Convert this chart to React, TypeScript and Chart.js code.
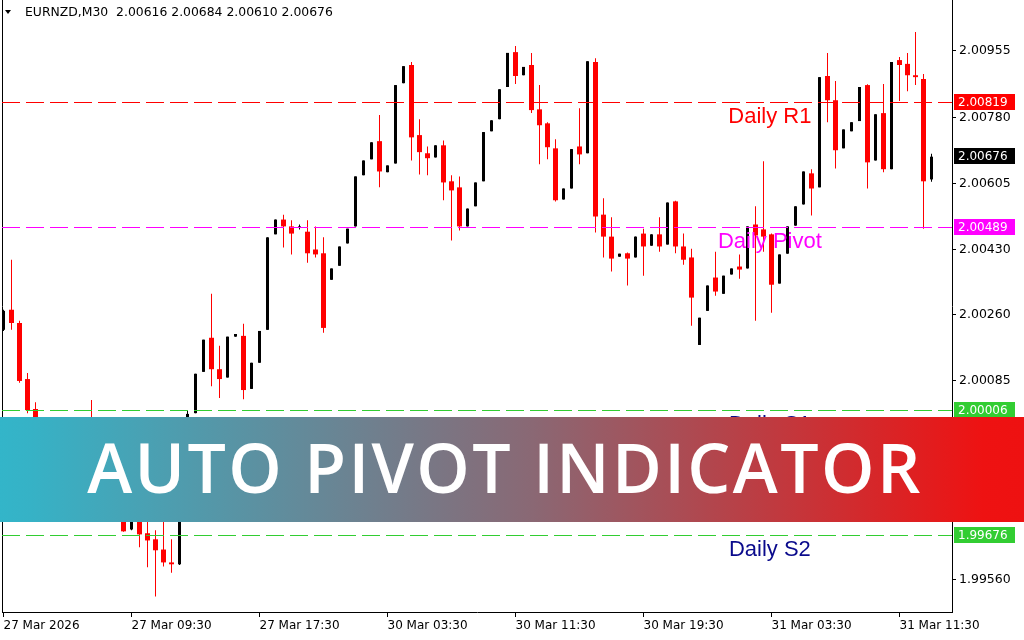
import React, { useEffect, useRef } from "react";
import { Chart, registerables } from "chart.js";

Chart.register(...registerables);

// ---------- data ----------
const symbolTitle = "EURNZD,M30";
const headerOHLC = [2.00616, 2.00684, 2.0061, 2.00676];

const opens = [
  2.00219, 2.00272, 2.00237, 2.00089, 2.0001, 1.9996, 1.99915, 1.99949, 1.9988, 1.99848,
  1.99888, 1.9987, 1.99827, 1.99862, 1.99782, 1.99737, 1.99692, 1.99727, 1.99682, 1.99666,
  1.99639, 1.99605, 1.996, 1.99848, 1.99999, 2.00108, 2.00198, 2.00115, 2.00093, 2.00201,
  2.00203, 2.00063, 2.00132, 2.00219, 2.00471, 2.0051, 2.00492, 2.00489, 2.00478, 2.00431,
  2.00421, 2.00351, 2.00388, 2.00447, 2.00492, 2.00627, 2.00669, 2.00717, 2.00635, 2.00658,
  2.0087, 2.00918, 2.00733, 2.00685, 2.00674, 2.00706, 2.00611, 2.00595, 2.00492, 2.00545,
  2.00611, 2.00743, 2.00775, 2.0086, 2.00952, 2.00891, 2.00918, 2.00801, 2.00764, 2.00698,
  2.00563, 2.00592, 2.00703, 2.00685, 2.00926, 2.00523, 2.00465, 2.00412, 2.00421, 2.0041,
  2.00473, 2.00441, 2.00471, 2.00444, 2.00558, 2.00439, 2.0041, 2.00179, 2.00269, 2.00357,
  2.00314, 2.00365, 2.00386, 2.00381, 2.00497, 2.00484, 2.00471, 2.00341, 2.0042, 2.00494,
  2.0055, 2.00632, 2.00595, 2.00889, 2.00825, 2.00698, 2.00743, 2.0077, 2.00865, 2.00666,
  2.00791, 2.00643, 2.00931, 2.00921, 2.00891, 2.00881, 2.00616,
];

const highs = [
  2.00272, 2.00404, 2.00243, 2.00105, 2.00028, 1.9997, 1.9996, 1.99954, 1.99896, 1.99901,
  1.99907, 2.00034, 1.99875, 1.9987, 1.99796, 1.99756, 1.99743, 1.99737, 1.99737, 1.9969,
  1.99729, 1.99666, 1.99862, 2.00007, 2.00103, 2.00193, 2.00314, 2.00177, 2.00201, 2.00208,
  2.00235, 2.00132, 2.00216, 2.00463, 2.0051, 2.00523, 2.00508, 2.00497, 2.00508, 2.00492,
  2.00463, 2.00381, 2.00439, 2.00486, 2.00624, 2.00666, 2.00714, 2.00786, 2.00653, 2.00865,
  2.00915, 2.00926, 2.00775, 2.00703, 2.00706, 2.00719, 2.00627, 2.00624, 2.00539, 2.00608,
  2.00741, 2.00772, 2.00854, 2.0095, 2.00968, 2.00913, 2.0095, 2.00865, 2.00767, 2.00722,
  2.00592, 2.00696, 2.00804, 2.00928, 2.00936, 2.00566, 2.00516, 2.0042, 2.00423, 2.00465,
  2.00486, 2.00471, 2.00516, 2.00555, 2.0056, 2.00473, 2.00433, 2.00251, 2.00336, 2.00425,
  2.00362, 2.00381, 2.00418, 2.00492, 2.00545, 2.00664, 2.00473, 2.00418, 2.00492, 2.00545,
  2.00637, 2.00643, 2.00886, 2.0095, 2.00876, 2.00748, 2.00767, 2.0086, 2.00867, 2.00788,
  2.00868, 2.00926, 2.00939, 2.0095, 2.01005, 2.00894, 2.00684,
];

const lows = [
  2.00216, 2.00219, 2.00079, 1.99999, 1.99928, 1.99896, 1.99901, 1.99862, 1.99822, 1.99833,
  1.99848, 1.99809, 1.99801, 1.99769, 1.99721, 1.99686, 1.9969, 1.99645, 1.99592, 1.99515,
  1.99594, 1.99578, 1.99598, 1.99835, 1.99999, 2.00108, 2.0007, 2.00039, 2.00093, 2.00201,
  2.00036, 2.00063, 2.00132, 2.00219, 2.00471, 2.00436, 2.00418, 2.00484, 2.00396, 2.0041,
  2.00211, 2.00351, 2.00388, 2.00447, 2.00492, 2.00627, 2.00669, 2.00595, 2.00635, 2.00658,
  2.0087, 2.00666, 2.00629, 2.00627, 2.00674, 2.00561, 2.00455, 2.00481, 2.00492, 2.00545,
  2.00611, 2.00743, 2.00775, 2.0086, 2.00868, 2.00891, 2.00791, 2.00656, 2.00669, 2.00558,
  2.00563, 2.00592, 2.00656, 2.00685, 2.00476, 2.0041, 2.00373, 2.00412, 2.00336, 2.0041,
  2.00362, 2.00441, 2.00425, 2.00444, 2.00421, 2.00391, 2.0023, 2.00179, 2.00269, 2.00309,
  2.00314, 2.00365, 2.00354, 2.00381, 2.00243, 2.00425, 2.00264, 2.00341, 2.0042, 2.00494,
  2.0055, 2.00521, 2.00595, 2.00767, 2.00645, 2.00698, 2.00743, 2.0077, 2.00592, 2.00666,
  2.00635, 2.00643, 2.00823, 2.00849, 2.00865, 2.00486, 2.0061,
];

const closes = [
  2.00269, 2.00237, 2.00084, 2.00007, 1.9996, 1.99915, 1.99949, 1.9988, 1.99848, 1.99888,
  1.9987, 1.99827, 1.99862, 1.99782, 1.99743, 1.99687, 1.99729, 1.99679, 1.99663, 1.99637,
  1.99605, 1.996, 1.99848, 1.99997, 2.00103, 2.00193, 2.00115, 2.00089, 2.00201, 2.00208,
  2.0006, 2.00132, 2.00216, 2.00463, 2.0051, 2.00492, 2.00473, 2.00492, 2.00421, 2.00418,
  2.00224, 2.00381, 2.00439, 2.00486, 2.00624, 2.00666, 2.00714, 2.00637, 2.00653, 2.00865,
  2.00915, 2.00727, 2.00688, 2.00672, 2.00706, 2.00608, 2.00587, 2.00492, 2.00539, 2.00608,
  2.00741, 2.00772, 2.00854, 2.0095, 2.00889, 2.00913, 2.00799, 2.00759, 2.00701, 2.00561,
  2.00592, 2.00696, 2.00682, 2.00928, 2.00518, 2.00465, 2.00407, 2.0042, 2.00407, 2.00465,
  2.00439, 2.00471, 2.00439, 2.00555, 2.00439, 2.00404, 2.00304, 2.00251, 2.00336, 2.0032,
  2.00362, 2.00381, 2.00378, 2.00492, 2.00468, 2.00465, 2.00338, 2.00418, 2.00492, 2.00545,
  2.00637, 2.00592, 2.00886, 2.00825, 2.00693, 2.00748, 2.00767, 2.0086, 2.00661, 2.00788,
  2.00643, 2.00926, 2.00918, 2.00891, 2.00886, 2.00611, 2.00676,
];

const timeLabels = [
  "27 Mar 2026",
  "27 Mar 09:30",
  "27 Mar 17:30",
  "30 Mar 03:30",
  "30 Mar 11:30",
  "30 Mar 19:30",
  "31 Mar 03:30",
  "31 Mar 11:30",
];
const barsPerLabel = 16;

const priceTicks = [2.00955, 2.0078, 2.00605, 2.0043, 2.0026, 2.00085, 1.9991, 1.99735, 1.9956];

const levelNames = ["Daily R1", "Daily Pivot", "Daily S1", "Daily S2"];
const levelValues = [2.00819, 2.00489, 2.00006, 1.99676];
const levelLineColors = ["#ff0000", "#ff00ff", "#32cd32", "#32cd32"];
const levelTextColors = ["#ff0000", "#ff00ff", "#0a0a8c", "#0a0a8c"];
const bidPrice = 2.00676;
const bannerTitle = "AUTO PIVOT INDICATOR";

// ---------- view settings ----------
const Y_MAX = 2.010896;
const Y_MIN = 1.994741;
const X_MIN = -0.1875;
const X_MAX = 118.5625;
const LEVEL_LABEL_AT = 95.8;
const AXIS_FAMILY = '"DejaVu Sans", Tahoma, sans-serif';
const AXIS_FONT = "12px " + AXIS_FAMILY;

const idx = opens.map((_, i) => i);
const isBear = (i: number) => closes[i] < opens[i];
const bearIdx = idx.filter(isBear);
const bullIdx = idx.filter((i) => !isBear(i));

const overlayPlugin = {
  id: "mt4overlay",
  afterDraw(chart: any) {
    const { ctx, chartArea, scales } = chart;
    const ys = scales.y;
    const xs = scales.x;
    ctx.save();
    // left frame line
    ctx.strokeStyle = "#000";
    ctx.lineWidth = 1;
    ctx.beginPath();
    ctx.moveTo(chartArea.left + 0.5, 0);
    ctx.lineTo(chartArea.left + 0.5, chartArea.bottom + 1);
    ctx.stroke();

    // pivot levels
    levelValues.forEach((v, i) => {
      const py = Math.floor(ys.getPixelForValue(v)) + 0.5;
      ctx.save();
      ctx.lineWidth = 1;
      ctx.setLineDash([18, 6]);
      ctx.strokeStyle = levelLineColors[i];
      ctx.beginPath();
      ctx.moveTo(chartArea.left, py);
      ctx.lineTo(chartArea.right, py);
      ctx.stroke();
      ctx.restore();
      ctx.font = '22px "Liberation Sans", Arial, sans-serif';
      ctx.fillStyle = levelTextColors[i];
      ctx.textAlign = "center";
      ctx.textBaseline = "alphabetic";
      ctx.fillText(levelNames[i], xs.getPixelForValue(LEVEL_LABEL_AT), py + 20.5);
    });

    // price boxes on the axis
    const boxes = [
      { v: levelValues[0], c: levelLineColors[0] },
      { v: bidPrice, c: "#000000" },
      { v: levelValues[1], c: levelLineColors[1] },
      { v: levelValues[2], c: levelLineColors[2] },
      { v: levelValues[3], c: levelLineColors[3] },
    ];
    boxes.forEach((b) => {
      const py = Math.floor(ys.getPixelForValue(b.v)) + 0.5;
      ctx.fillStyle = b.c;
      ctx.fillRect(chartArea.right + 2, Math.floor(py) - 8, 61, 16);
      ctx.fillStyle = "#ffffff";
      ctx.font = AXIS_FONT;
      ctx.textAlign = "left";
      ctx.textBaseline = "middle";
      ctx.fillText(b.v.toFixed(5), chartArea.right + 6, py);
    });

    // header
    ctx.fillStyle = "#000";
    ctx.beginPath();
    ctx.moveTo(5, 10);
    ctx.lineTo(11, 10);
    ctx.lineTo(8, 14);
    ctx.closePath();
    ctx.fill();
    ctx.font = "12.4px " + AXIS_FAMILY;
    ctx.textAlign = "left";
    ctx.textBaseline = "middle";
    ctx.fillText(
      symbolTitle + "  " + headerOHLC.map((v) => v.toFixed(5)).join(" "),
      25,
      13
    );
    ctx.restore();
  },
};

export default function App() {
  const ref = useRef<HTMLCanvasElement>(null);
  useEffect(() => {
    if (!ref.current) return;
    const chart = new Chart(ref.current, {
      type: "bar",
      data: {
        datasets: [
          {
            label: "bear body",
            data: bearIdx.map((i) => ({ x: i, y: [opens[i], closes[i]] })) as any,
            backgroundColor: "#ff0000",
            barThickness: 5,
            grouped: false,
            minBarLength: 1,
            inflateAmount: 0,
            order: 0,
          },
          {
            label: "bull body",
            data: bullIdx.map((i) => ({ x: i, y: [opens[i], closes[i]] })) as any,
            backgroundColor: "#000000",
            barThickness: 3,
            grouped: false,
            minBarLength: 1,
            inflateAmount: 0,
            order: 0,
          },
          {
            label: "bear wick",
            data: bearIdx.map((i) => ({ x: i, y: [lows[i], highs[i]] })) as any,
            backgroundColor: "#ff0000",
            barThickness: 1,
            grouped: false,
            inflateAmount: 0,
            order: 1,
          },
          {
            label: "bull wick",
            data: bullIdx.map((i) => ({ x: i, y: [lows[i], highs[i]] })) as any,
            backgroundColor: "#000000",
            barThickness: 1,
            grouped: false,
            inflateAmount: 0,
            order: 1,
          },
        ],
      },
      options: {
        animation: false,
        responsive: false,
        layout: { padding: { left: 2, top: 0, right: 0, bottom: 0 } },
        plugins: { legend: { display: false }, tooltip: { enabled: false } },
        scales: {
          x: {
            type: "linear",
            min: X_MIN,
            max: X_MAX,
            bounds: "data",
            offset: false,
            afterBuildTicks: (s: any) => {
              s.ticks = timeLabels.map((_, i) => ({ value: i * barsPerLabel }));
            },
            afterFit: (s: any) => {
              s.height = 28;
              s.paddingLeft = 0;
              s.paddingRight = 0;
            },
            grid: { offset: false, drawOnChartArea: false, drawTicks: true, tickLength: 5, color: "#000" },
            border: { display: true, color: "#000" },
            ticks: {
              autoSkip: false,
              maxRotation: 0,
              minRotation: 0,
              align: "start",
              padding: 2,
              color: "#000",
              font: { family: AXIS_FAMILY, size: 12 },
              callback: (_v: any, i: number) => timeLabels[i] ?? "",
            },
          },
          y: {
            type: "linear",
            position: "right",
            min: Y_MIN,
            max: Y_MAX,
            bounds: "data",
            afterBuildTicks: (s: any) => {
              s.ticks = priceTicks.map((v) => ({ value: v }));
            },
            afterFit: (s: any) => {
              s.width = 72;
              s.paddingTop = 0;
              s.paddingBottom = 0;
            },
            grid: { drawOnChartArea: false, drawTicks: true, tickLength: 4, color: "#000" },
            border: { display: true, color: "#000" },
            ticks: {
              autoSkip: false,
              padding: 3,
              color: "#000",
              font: { family: AXIS_FAMILY, size: 12.5 },
              callback: (v: any) => Number(v).toFixed(5),
            },
          },
        },
      },
      plugins: [overlayPlugin],
    });
    return () => chart.destroy();
  }, []);

  return (
    <div
      style={{
        position: "fixed",
        left: 0,
        top: 0,
        width: 1024,
        height: 640,
        background: "#ffffff",
        overflow: "hidden",
      }}
    >
      <canvas ref={ref} width={1024} height={640} style={{ position: "absolute", left: 0, top: 0 }} />
      <div
        style={{
          position: "absolute",
          left: 0,
          top: 417,
          width: 1024,
          height: 105,
          background: "linear-gradient(to right, #33b5c9 0%, #36b2c6 3%, #8a6874 52%, #ee1212 96%, #ee1111 100%)",
          color: "#ffffff",
          display: "flex",
          alignItems: "center",
          justifyContent: "center",
          fontFamily: '"Open Sans", Lato, sans-serif',
          fontWeight: 600,
          fontSize: 68,
          letterSpacing: "2.4px",
          lineHeight: 1,
          paddingRight: 14,
          paddingBottom: 5,
          boxSizing: "border-box",
          whiteSpace: "nowrap",
        }}
      >
        {bannerTitle}
      </div>
    </div>
  );
}
